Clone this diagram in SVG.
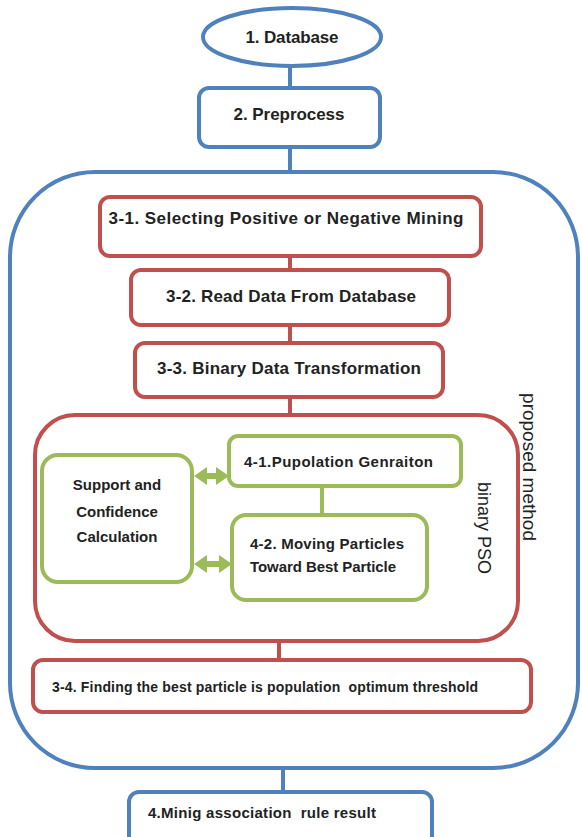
<svg xmlns="http://www.w3.org/2000/svg" width="582" height="837" viewBox="0 0 582 837">
<style>
.b{fill:#fff;stroke:#4f81bd;stroke-width:4}
.r{fill:#fff;stroke:#c0504d;stroke-width:4}
.g{fill:#fff;stroke:#9bbb59;stroke-width:4}
.lb{stroke:#4f81bd;stroke-width:4;fill:none}
.lr{stroke:#c0504d;stroke-width:4;fill:none}
.lg{stroke:#9bbb59;stroke-width:4;fill:none}
.ar{fill:#9bbb59}
text{font-family:"Liberation Sans",Arial,sans-serif;fill:#222;font-size:17px;font-weight:bold}
.t{text-anchor:middle;dominant-baseline:central}
.s{font-size:15px}
.v{font-weight:normal;font-size:19px}
</style>
<rect fill="#fff" width="582" height="837"/>
<g id="method"><rect class="b" x="10" y="172" width="568" height="596" rx="85" style="fill:none"/>
<text class="v" transform="translate(523,467) rotate(90)" text-anchor="middle">proposed method</text></g>
<g id="n1"><ellipse class="b" cx="292" cy="37" rx="89" ry="29"/><text class="t" x="292" y="37" textLength="93">1. Database</text></g>
<g id="n2"><rect class="b" x="199" y="88" width="181" height="59" rx="10"/><text class="t" x="289" y="114" textLength="111">2. Preprocess</text></g>
<g id="n31"><rect class="r" x="100" y="197" width="381" height="59" rx="10"/><text class="t" x="286" y="218" textLength="355">3-1. Selecting Positive or Negative Mining</text></g>
<g id="n32"><rect class="r" x="131" y="270" width="318" height="55" rx="10"/><text class="t" x="291" y="296" textLength="250">3-2. Read Data From Database</text></g>
<g id="n33"><rect class="r" x="135" y="343" width="308" height="54" rx="10"/><text class="t" x="289" y="368" textLength="264">3-3. Binary Data Transformation</text></g>
<g id="pso"><rect class="r" x="35" y="415" width="483" height="226" rx="40"/>
<text class="v" transform="translate(478,528) rotate(90)" text-anchor="middle" style="font-size:18px">binary PSO</text></g>
<g id="support"><rect class="g" x="42" y="455" width="150" height="127" rx="16"/>
<text class="t s" x="117" y="484">Support and</text><text class="t s" x="117" y="511">Confidence</text><text class="t s" x="117" y="536">Calculation</text></g>
<g id="n41"><rect class="g" x="229" y="436" width="232" height="50" rx="9"/><text class="s" x="244" y="467" textLength="189">4-1.Pupolation Genraiton</text></g>
<g id="n42"><rect class="g" x="232" y="515" width="195" height="85" rx="14"/><text class="s" x="250" y="549" textLength="154">4-2. Moving Particles</text><text class="s" x="250" y="572" textLength="146">Toward Best Particle</text></g>
<g id="n34"><rect class="r" x="33" y="660" width="498" height="52" rx="10"/><text class="s" x="52" y="692" xml:space="preserve" style="font-size:14px" textLength="426">3-4. Finding the best particle is population  optimum threshold</text></g>
<g id="n4"><rect class="b" x="129" y="792" width="303" height="60" rx="10"/><text class="s" x="148" y="818" xml:space="preserve" textLength="228">4.Minig association  rule result</text></g>
<g id="connectors">
<line class="lb" x1="290" y1="65" x2="290" y2="88"/>
<line class="lb" x1="290" y1="147" x2="290" y2="172"/>
<line class="lr" x1="290" y1="256" x2="290" y2="270"/>
<line class="lr" x1="290" y1="325" x2="290" y2="343"/>
<line class="lr" x1="290" y1="397" x2="290" y2="415"/>
<line class="lg" x1="322" y1="486" x2="322" y2="515"/>
<line class="lr" x1="279" y1="641" x2="279" y2="660"/>
<line class="lb" x1="283" y1="768" x2="283" y2="792"/>
<polygon class="ar" points="194,476 207,467 207,473 216,473 216,467 229,476 216,485 216,479 207,479 207,485"/>
<polygon class="ar" points="194,564 207,555 207,561 219,561 219,555 232,564 219,573 219,567 207,567 207,573"/>
</g>
</svg>
